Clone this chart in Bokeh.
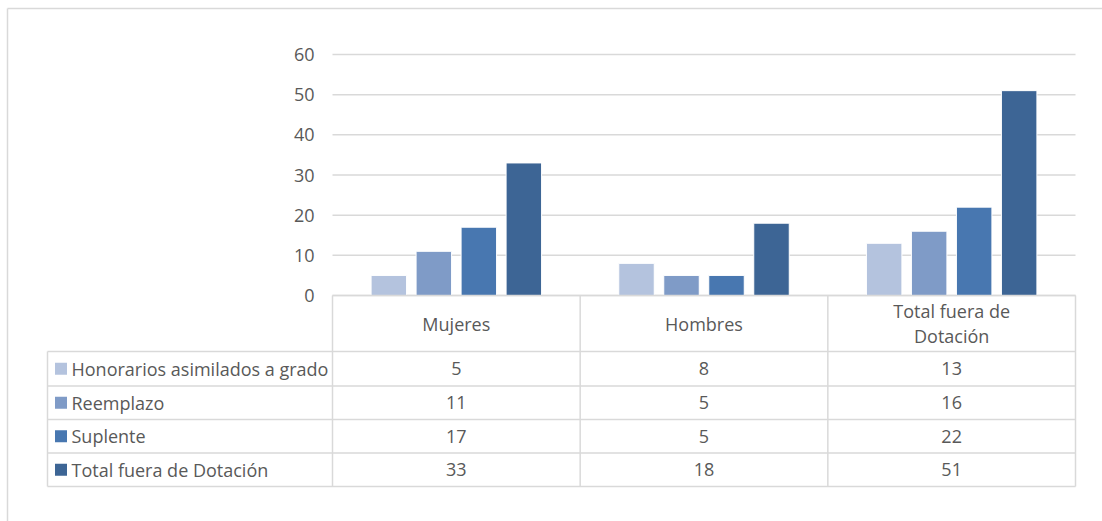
from bokeh.plotting import figure
from bokeh.models import Range1d
from bokeh.core.properties import value
from bokeh.embed import file_html
from bokeh.resources import INLINE

# ---- data ----
categories = ["Mujeres", "Hombres", "Total fuera de Dotación"]
category_lines = [["Mujeres"], ["Hombres"], ["Total fuera de", "Dotación"]]
series_names = ["Honorarios asimilados a grado", "Reemplazo", "Suplente", "Total fuera de Dotación"]
honorarios = [5, 8, 13]
reemplazo = [11, 5, 16]
suplente = [17, 5, 22]
total_fuera = [33, 18, 51]
y_ticks = [0, 10, 20, 30, 40, 50, 60]

series_values = [honorarios, reemplazo, suplente, total_fuera]
colors = ["#B4C3DE", "#7F9BC7", "#4877B0", "#3D6595"]

FONT = value("Open Sans")
FONT_SIZE = "18px"
TEXT_COLOR = "#595959"
LINE_COLOR = "#D9D9D9"

W, H = 1102, 521
# plot-area geometry (pixels)
PX_LEFT, PX_RIGHT = 332, 1075
PX_BASE, PX_TOP60 = 295, 54
cat_w = (PX_RIGHT - PX_LEFT) / len(categories)
px_per_unit = (PX_BASE - PX_TOP60) / 60.0

p = figure(width=W, height=H, output_backend="svg", toolbar_location=None,
           min_border=0, x_axis_type=None, y_axis_type=None,
           x_range=Range1d(-PX_LEFT / cat_w, (W - PX_LEFT) / cat_w),
           y_range=Range1d(-(H - PX_BASE) / px_per_unit, PX_BASE / px_per_unit))
p.outline_line_color = None
p.grid.visible = False
p.background_fill_color = "white"
p.border_fill_color = "white"
p.extra_x_ranges = {"px": Range1d(0, W)}
p.extra_y_ranges = {"px": Range1d(H, 0)}

# outer chart border
p.segment(x0=[7, 7], y0=[8, 8], x1=[W + 5, 7], y1=[8, H + 5], x_range_name="px", y_range_name="px",
          line_color=LINE_COLOR, line_width=1.5)

# horizontal gridlines and tick labels
p.segment(x0=[0] * len(y_ticks), x1=[len(categories)] * len(y_ticks), y0=y_ticks, y1=y_ticks,
          line_color=LINE_COLOR, line_width=1.5)
p.text(x=[314] * len(y_ticks), y=y_ticks, text=[str(t) for t in y_ticks], x_range_name="px",
       text_align="right", text_baseline="middle", text_font=FONT, text_font_size=FONT_SIZE,
       text_color=TEXT_COLOR)

# clustered bars
n = len(series_values)
step = 45 / cat_w
bar_w = 35.5 / cat_w
for k, (vals, col) in enumerate(zip(series_values, colors)):
    xs = [i + 0.5 + (k - (n - 1) / 2) * step for i in range(len(categories))]
    p.vbar(x=xs, top=vals, bottom=0, width=bar_w, fill_color=col, line_color="white", line_width=1)

# data table
row_edges = [351, 385.5, 419, 452.5, 486]
TABLE_LEFT = 47
col_edges = [PX_LEFT + i * cat_w for i in range(len(categories) + 1)]
lw = 1.5
# horizontal lines
hx0 = [PX_LEFT] + [TABLE_LEFT] * len(row_edges)
hx1 = [PX_RIGHT] * (len(row_edges) + 1)
hy = [PX_BASE] + row_edges
p.segment(x0=hx0, x1=hx1, y0=hy, y1=hy, x_range_name="px", y_range_name="px",
          line_color=LINE_COLOR, line_width=lw)
# vertical lines
vx = [TABLE_LEFT] + col_edges
vy0 = [row_edges[0]] + [PX_BASE] * len(col_edges)
vy1 = [row_edges[-1]] * (len(col_edges) + 1)
p.segment(x0=vx, x1=vx, y0=vy0, y1=vy1, x_range_name="px", y_range_name="px",
          line_color=LINE_COLOR, line_width=lw)

# category header labels
head_x, head_y, head_t = [], [], []
for i, lines in enumerate(category_lines):
    mid = (PX_BASE + row_edges[0]) / 2
    for j, ln in enumerate(lines):
        head_x.append(i + 0.5)
        head_y.append(mid + (j - (len(lines) - 1) / 2) * 25)
        head_t.append(ln)
p.text(x=head_x, y=head_y, text=head_t, y_range_name="px", text_align="center",
       text_baseline="middle", text_font=FONT, text_font_size=FONT_SIZE, text_color=TEXT_COLOR)

# row labels with legend keys and values
row_mid = [(row_edges[r] + row_edges[r + 1]) / 2 for r in range(n)]
p.rect(x=[60.5] * n, y=row_mid, width=12, height=12, fill_color=colors, line_color=None,
       x_range_name="px", y_range_name="px")
p.text(x=[71] * n, y=row_mid, text=series_names, x_range_name="px", y_range_name="px",
       text_align="left", text_baseline="middle", text_font=FONT, text_font_size=FONT_SIZE,
       text_color=TEXT_COLOR)
cell_x, cell_y, cell_t = [], [], []
for r, vals in enumerate(series_values):
    for i, v in enumerate(vals):
        cell_x.append(i + 0.5)
        cell_y.append(row_mid[r])
        cell_t.append(str(v))
p.text(x=cell_x, y=cell_y, text=cell_t, y_range_name="px", text_align="center",
       text_baseline="middle", text_font=FONT, text_font_size=FONT_SIZE, text_color=TEXT_COLOR)

open("out.html", "w").write(file_html(p, INLINE))
